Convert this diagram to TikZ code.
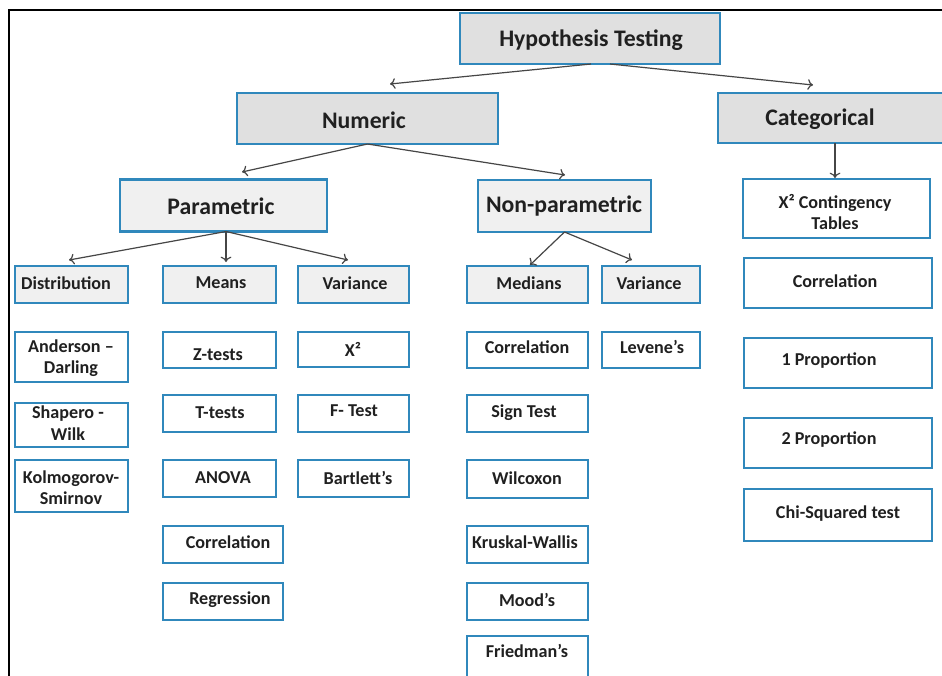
\documentclass[tikz,border=0pt]{standalone}
\usepackage{fontspec}
\setmainfont{Carlito}
\usetikzlibrary{arrows.meta}
\definecolor{boxblue}{RGB}{48,136,188}
\definecolor{headgray}{RGB}{224,224,224}
\definecolor{subgray}{RGB}{240,240,240}
\definecolor{inkgray}{RGB}{32,32,32}
\definecolor{linkgray}{RGB}{70,70,70}
\tikzset{
  frame/.style={draw=black, line width=1.8pt},
  plainbox/.style={draw=boxblue, line width=1.9pt, fill=white, rectangle, inner sep=0pt, outer sep=0pt},
  headbox/.style={plainbox, fill=headgray},
  subbox/.style={plainbox, fill=subgray},
  lbl/.style={text=inkgray, inner sep=0pt, align=center, font=\bfseries\fontsize{13.6}{16}\selectfont},
  headlbl/.style={lbl, font=\bfseries\fontsize{17.8}{20}\selectfont},
  link/.style={draw=linkgray, line width=0.9pt, -{To[length=4pt,width=8pt]}},
}
% #1 name, #2 box style, #3-#6 corners (x1,y1,x2,y2), #7-#8 text position, #9 text
\newcommand\tbox[9]{%
  \node[#2, minimum width={0.75*(#5-#3)}, minimum height={0.75*(#6-#4)}] (#1) at ({(#3+#5)/2},{(#4+#6)/2}) {};
  \node[lbl] (#1-t) at (#7,#8) {#9};
}
\begin{document}
\begin{tikzpicture}[x=0.75pt, y=-0.75pt]
\useasboundingbox (0,0) rectangle (942,675);
\fill[white] (0,0) rectangle (942,675);
% outer frame: top and left edges
\draw[frame] (942,10) -- (9,10) -- (9,680);

% top levels
\node[headbox, minimum width={0.75*260}, minimum height={0.75*51}] (ht) at (590,38.5) {};
\node[headlbl] (ht-t) at (591,40) {Hypothesis Testing};
\node[headbox, minimum width={0.75*261}, minimum height={0.75*51}] (num) at (367.5,118.5) {};
\node[headlbl] (num-t) at (364,120) {Numeric};
\node[headbox, minimum width={0.75*240}, minimum height={0.75*50}] (cat) at (838,118) {};
\node[headlbl] (cat-t) at (820,119) {Categorical};
\node[subbox, minimum width={0.75*207}, minimum height={0.75*52}] (par) at (223.5,205.5) {};
\node[headlbl] (par-t) at (221,206) {Parametric};
\node[subbox, minimum width={0.75*173}, minimum height={0.75*52}] (npar) at (564.5,206) {};
\node[headlbl] (npar-t) at (564,206) {Non-parametric};

% parametric branch
\tbox{dist}{subbox}{15}{266}{128}{303}{66}{283}{Distribution}
\tbox{means}{subbox}{163}{266}{276}{303}{221}{283}{Means}
\tbox{pvar}{subbox}{298}{266}{409}{303}{355}{283}{Variance}
\tbox{ad}{plainbox}{15}{332}{128}{382}{71}{358}{Anderson –\\Darling}
\tbox{sw}{plainbox}{15}{403}{128}{447}{68}{423}{Shapero -\\Wilk}
\tbox{ks}{plainbox}{15}{460}{128}{512}{71}{488}{Kolmogorov-\\Smirnov}
\tbox{zt}{plainbox}{163}{332}{276}{368}{218}{355}{Z-tests}
\tbox{tt}{plainbox}{163}{395}{276}{432}{220}{413}{T-tests}
\tbox{anova}{plainbox}{163}{460}{276}{497}{223}{478}{ANOVA}
\tbox{pcor}{plainbox}{163}{526}{283}{563}{228}{542}{Correlation}
\tbox{reg}{plainbox}{163}{583}{283}{620}{230}{600}{Regression}
\tbox{chi}{plainbox}{298}{332}{409}{367}{353}{349}{X²}
\tbox{ft}{plainbox}{298}{395}{409}{432}{354}{411}{F- Test}
\tbox{bart}{plainbox}{298}{460}{409}{497}{358}{478}{Bartlett’s}

% non-parametric branch
\tbox{med}{subbox}{467}{266}{588}{303}{529}{283}{Medians}
\tbox{nvar}{subbox}{602}{266}{700}{303}{649}{283}{Variance}
\tbox{ncor}{plainbox}{467}{332}{588}{368}{527}{347}{Correlation}
\tbox{lev}{plainbox}{602}{332}{700}{368}{652}{347}{Levene’s}
\tbox{sign}{plainbox}{467}{395}{588}{432}{524}{413}{Sign Test}
\tbox{wil}{plainbox}{467}{460}{588}{498}{527}{478}{Wilcoxon}
\tbox{kw}{plainbox}{467}{526}{588}{563}{525}{542}{Kruskal-Wallis}
\tbox{mood}{plainbox}{467}{583}{588}{620}{527}{600}{Mood’s}
\tbox{fried}{plainbox}{467}{636}{588}{700}{527}{651}{Friedman’s}

% categorical branch
\tbox{cont}{plainbox}{743}{179}{930}{238}{835}{212}{X² Contingency\\Tables}
\tbox{ccor}{plainbox}{744}{258}{932}{308}{835}{281}{Correlation}
\tbox{p1}{plainbox}{744}{338}{932}{388}{829}{361}{1 Proportion}
\tbox{p2}{plainbox}{744}{418}{932}{468}{829}{440}{2 Proportion}
\tbox{csq}{plainbox}{744}{489}{932}{541}{838}{514}{Chi-Squared test}

% arrow tips
\coordinate (tNum) at (390,84);
\coordinate (tCat) at (813,85);
\coordinate (tPar) at (242,172);
\coordinate (tNpar) at (565,175);
\coordinate (tCont) at (835,178);
\coordinate (tDist) at (69,260);
\coordinate (tMeans) at (226,262);
\coordinate (tPvar) at (348,260);
\coordinate (tMed) at (530,265);
\coordinate (tNvar) at (632,260);

% connectors
\draw[link] ([xshift={0.75*1}]ht.south) -- (tNum);
\draw[link] ([xshift={0.75*20}]ht.south) -- (tCat);
\draw[link] (num.south) -- (tPar);
\draw[link] (num.south) -- (tNpar);
\draw[link] ([xshift={-0.75*3}]cat.south) -- (tCont);
\draw[link] ([xshift={0.75*2.5}]par.south) -- (tDist);
\draw[link] ([xshift={0.75*2.5}]par.south) -- (tMeans);
\draw[link] ([xshift={0.75*2.5}]par.south) -- (tPvar);
\draw[link] (npar.south) -- (tMed);
\draw[link] (npar.south) -- (tNvar);
\end{tikzpicture}
\end{document}
